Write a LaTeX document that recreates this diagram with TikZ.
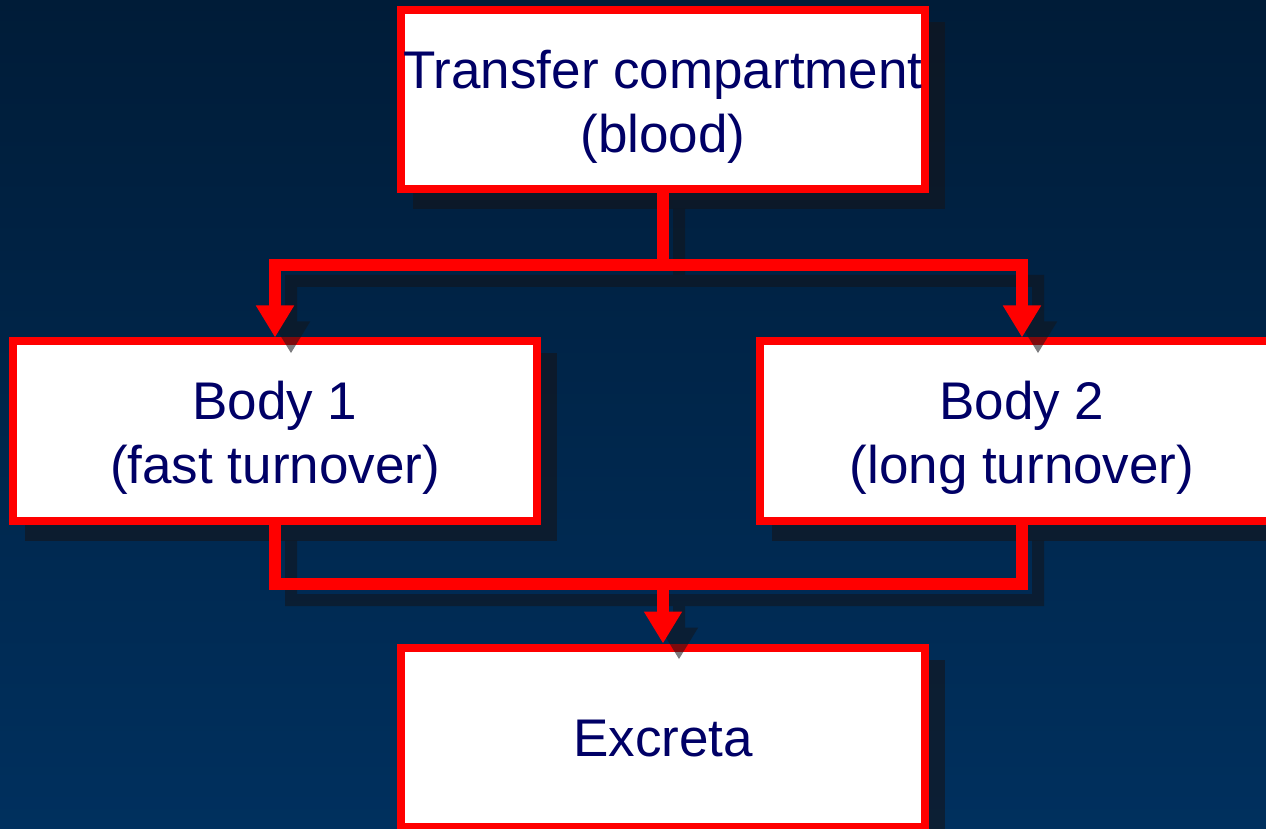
\documentclass[tikz,border=0pt]{standalone}
\usepackage{fontspec}
\setmainfont{Liberation Sans}
\usetikzlibrary{arrows.meta}
\definecolor{bgtop}{RGB}{0,28,56}
\definecolor{bgbot}{RGB}{0,48,94}
\definecolor{boxred}{RGB}{255,0,0}
\definecolor{navytext}{RGB}{0,0,102}
\definecolor{shadowc}{RGB}{20,20,25}
\pgfdeclarelayer{bglayer}
\pgfdeclarelayer{shlayer}
\pgfsetlayers{bglayer,shlayer,main}
\begin{document}
\begin{tikzpicture}[x=0.5pt,y=-0.5pt,
  cbox/.style={draw=boxred, line width=4pt, fill=white, minimum width=262pt,
    minimum height=89.5pt, inner sep=0pt},
  lbl/.style={inner sep=0pt, text=navytext,
    font=\fontsize{26.5}{32}\selectfont, align=center},
  conn/.style={draw=boxred, line width=6pt},
  connshadow/.style={draw=shadowc, line width=6pt},
  arrowend/.style={-{Triangle[length=16pt,width=18pt]}},
  boxshadow/.style={fill=shadowc, opacity=0.6}]
\useasboundingbox (0,0) rectangle (1266,829);
\begin{pgfonlayer}{bglayer}
  \shade[top color=bgtop, bottom color=bgbot] (0,0) rectangle (1266,829);
\end{pgfonlayer}

\node[cbox] (top) at (663,99.5) {};
\node[cbox] (b1) at (275,431) {};
\node[cbox] (b2) at (1022,431) {};
\node[cbox] (ex) at (663,737) {};
\node[lbl] (topt) at ([yshift=-3.5pt]top.center) {Transfer compartment\\(blood)};
\node[lbl] (b1t) at ([yshift=-3.5pt]b1.center) {Body 1\\(fast turnover)};
\node[lbl] (b2t) at ([yshift=-3.5pt]b2.center) {Body 2\\(long turnover)};
\node[lbl] (ext) at ([yshift=-1pt]ex.center) {Excreta};
\coordinate (j1) at (663,265);
\coordinate (j2) at (663,584);

\begin{pgfonlayer}{shlayer}
  \foreach \n in {top,b1,b2,ex}
    \fill[boxshadow] ([shift={(8pt,-8pt)}]\n.north west) rectangle ([shift={(8pt,-8pt)}]\n.south east);
\end{pgfonlayer}

% connector shadows
\begin{scope}[transform canvas={shift={(8pt,-8pt)}}]
  \begin{scope}[transparency group, opacity=0.55]
    \draw[connshadow] (top.south) -- (j1);
    \draw[connshadow, arrowend] (j1) -| (b1.north);
    \draw[connshadow, arrowend] (j1) -| (b2.north);
    \draw[connshadow] (b1.south) |- (j2) -| (b2.south);
    \draw[connshadow, arrowend] (j2) -- (ex.north);
  \end{scope}
\end{scope}

% connectors
\draw[conn] (top.south) -- (j1);
\draw[conn, arrowend] (j1) -| (b1.north);
\draw[conn, arrowend] (j1) -| (b2.north);
\draw[conn] (b1.south) |- (j2) -| (b2.south);
\draw[conn, arrowend] (j2) -- (ex.north);
\end{tikzpicture}
\end{document}
